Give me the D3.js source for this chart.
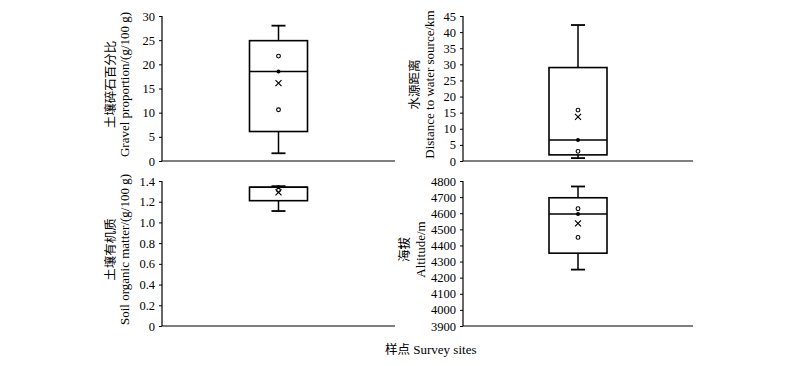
<!DOCTYPE html>
<html>
<head>
<meta charset="utf-8">
<script src="https://cdn.jsdelivr.net/npm/d3@7"></script>
<style>
  body { margin: 0; background: #fff; }
  text { font-family: "Liberation Serif", "Times New Roman", serif; fill: #000; }
  .cn { font-family: "Noto Sans CJK SC", sans-serif; }
</style>
</head>
<body>
<svg id="chart" width="800" height="366"></svg>
<script>
// one box per panel: [min, q1, median, q3, max], mean, extra points
var panelNames = ["gravel", "water", "organic", "altitude"];
var cnTitles = ["土壤碎石百分比", "水源距离", "土壤有机质", "海拔"];
var enTitles = ["Gravel proportion/(g/100 g)", "Distance to water source/km", "Soil organic matter/(g/100 g)", "Altitude/m"];
var category = ["样点"];
var boxStats = [
  [1.6, 6.1, 18.5, 24.9, 28.0],
  [0.9, 1.9, 6.5, 29.0, 42.2],
  [1.11, 1.21, 1.34, 1.34, 1.35],
  [4250, 4352, 4595, 4696, 4766]
];
var means = [16.1, 13.7, 1.29, 4537];
var points = [
  [21.7, 10.6],
  [15.8, 3.0],
  [1.31],
  [4628, 4450]
];
var yDomains = [[0, 30], [0, 45], [0, 1.4], [3900, 4800]];
var yTicks = [
  [0, 5, 10, 15, 20, 25, 30],
  [0, 5, 10, 15, 20, 25, 30, 35, 40, 45],
  [0, 0.2, 0.4, 0.6, 0.8, 1.0, 1.2, 1.4],
  [3900, 4000, 4100, 4200, 4300, 4400, 4500, 4600, 4700, 4800]
];
var tickFormats = [d3.format("d"), d3.format("d"), d => d === 0 ? "0" : d3.format(".1f")(d), d3.format("d")];

var svg = d3.select("#chart");

// plot frames and title baselines
var panelBoxes = [
  {x0: 162, x1: 395, y0: 16, y1: 161, t1: 115, t2: 129},
  {x0: 463, x1: 693, y0: 16, y1: 161, t1: 419, t2: 434},
  {x0: 162, x1: 395, y0: 181, y1: 326, t1: 115, t2: 129},
  {x0: 463, x1: 693, y0: 181, y1: 326, t1: 409, t2: 425}
];

panelNames.forEach(function(name, i) {
  var p = panelBoxes[i];
  var g = svg.append("g").attr("class", name);

  var y = d3.scaleLinear().domain(yDomains[i]).range([p.y1, p.y0]);
  var x = d3.scalePoint().domain(category).range([p.x0, p.x1]).padding(0.5);

  var yAxis = d3.axisLeft(y).tickValues(yTicks[i]).tickFormat(tickFormats[i])
    .tickSize(3).tickPadding(4);
  var ag = g.append("g").attr("transform", `translate(${p.x0},0)`).call(yAxis);
  ag.select(".domain").attr("stroke", "#000").attr("stroke-width", 1.2).attr("d", `M-0,${p.y0}V${p.y1}`);
  ag.selectAll(".tick line").attr("stroke", "#000");
  ag.selectAll(".tick text").style("font-size", "12.5px").style("font-family", "Liberation Serif");

  // bottom axis line
  g.append("line")
    .attr("x1", p.x0).attr("x2", p.x1)
    .attr("y1", p.y1).attr("y2", p.y1)
    .attr("stroke", "#000").attr("stroke-width", 1.2);

  var s = boxStats[i];
  var cx = x(category[0]);
  var bw = 58, cap = 13;

  // whiskers
  g.append("line").attr("x1", cx).attr("x2", cx).attr("y1", y(s[0])).attr("y2", y(s[1]))
    .attr("stroke", "#000").attr("stroke-width", 1.5);
  g.append("line").attr("x1", cx).attr("x2", cx).attr("y1", y(s[3])).attr("y2", y(s[4]))
    .attr("stroke", "#000").attr("stroke-width", 1.5);
  [s[0], s[4]].forEach(function(v) {
    g.append("line").attr("x1", cx - cap / 2 - 0.5).attr("x2", cx + cap / 2 + 0.5)
      .attr("y1", y(v)).attr("y2", y(v))
      .attr("stroke", "#000").attr("stroke-width", 1.8);
  });

  // box
  g.append("rect")
    .attr("x", cx - bw / 2).attr("y", y(s[3]))
    .attr("width", bw).attr("height", y(s[1]) - y(s[3]))
    .attr("fill", "#fff").attr("stroke", "#000").attr("stroke-width", 1.6);
  g.append("line").attr("x1", cx - bw / 2).attr("x2", cx + bw / 2)
    .attr("y1", y(s[2])).attr("y2", y(s[2]))
    .attr("stroke", "#000").attr("stroke-width", 1.5);

  // median dot
  g.append("circle").attr("cx", cx).attr("cy", y(s[2])).attr("r", 2)
    .attr("fill", "#000");

  // other points
  g.selectAll("circle.pt").data(points[i]).enter().append("circle")
    .attr("class", "pt")
    .attr("cx", cx).attr("cy", d => y(d)).attr("r", 1.9)
    .attr("fill", "#fff").attr("stroke", "#000").attr("stroke-width", 1.1);

  // mean cross
  var m = y(means[i]), k = 3;
  g.append("path")
    .attr("d", `M${cx - k},${m - k}L${cx + k},${m + k}M${cx - k},${m + k}L${cx + k},${m - k}`)
    .attr("stroke", "#000").attr("stroke-width", 1.2);

  // y titles
  var mid = (p.y0 + p.y1) / 2 - 4;
  g.append("text").attr("class", "cn")
    .attr("transform", `translate(${p.t1},${mid}) rotate(-90)`)
    .attr("text-anchor", "middle")
    .style("font-size", "12.5px")
    .text(cnTitles[i]);
  g.append("text")
    .attr("transform", `translate(${p.t2},${mid}) rotate(-90)`)
    .attr("text-anchor", "middle")
    .style("font-size", "13px")
    .text(enTitles[i]);
});

svg.append("text")
  .attr("x", 385).attr("y", 354)
  .style("font-size", "13px")
  .html('<tspan class="cn" style="font-size:12.5px">样点</tspan> Survey sites');
</script>
</body>
</html>
